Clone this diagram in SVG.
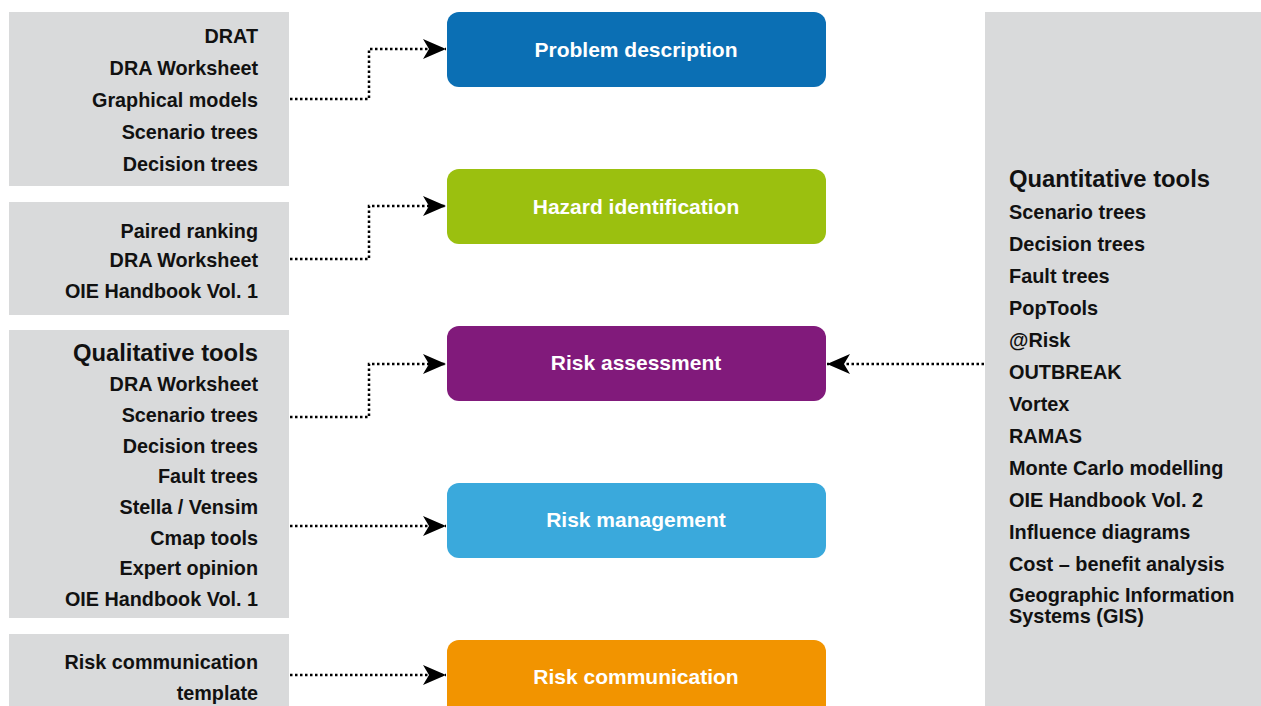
<svg xmlns="http://www.w3.org/2000/svg" width="1261" height="706" viewBox="0 0 1261 706">
<style>
.panel{fill:#d9dadb}
.lt{font-family:"Liberation Sans",Arial,sans-serif;font-weight:bold;font-size:19.8px;fill:#111;text-anchor:end}
.lh{font-family:"Liberation Sans",Arial,sans-serif;font-weight:bold;font-size:23.8px;fill:#111}
.rt{font-family:"Liberation Sans",Arial,sans-serif;font-weight:bold;font-size:19.9px;fill:#111}
.nt{font-family:"Liberation Sans",Arial,sans-serif;font-weight:bold;font-size:21px;fill:#fff;text-anchor:middle}
.conn{fill:none;stroke:#000;stroke-width:2.5;stroke-dasharray:2.5 2.5;marker-end:url(#arr)}
</style>
<defs>
<marker id="arr" markerUnits="userSpaceOnUse" markerWidth="26" markerHeight="22" refX="23" refY="10" orient="auto">
<path d="M0,0 L23,10 L0,20 L6,10 Z" fill="#000"/>
</marker>
</defs>
<rect width="1261" height="706" fill="#fff"/>
<g id="tools-problem">
<rect class="panel" x="9" y="12" width="280" height="174"/>
<text class="lt" x="258" y="43">DRAT</text>
<text class="lt" x="258" y="75">DRA Worksheet</text>
<text class="lt" x="258" y="107">Graphical models</text>
<text class="lt" x="258" y="139">Scenario trees</text>
<text class="lt" x="258" y="171">Decision trees</text>
</g>
<g id="tools-hazard">
<rect class="panel" x="9" y="202" width="280" height="113"/>
<text class="lt" x="258" y="238">Paired ranking</text>
<text class="lt" x="258" y="267">DRA Worksheet</text>
<text class="lt" x="258" y="298">OIE Handbook Vol. 1</text>
</g>
<g id="tools-qualitative">
<rect class="panel" x="9" y="330" width="280" height="288"/>
<text class="lh" x="258" y="361" text-anchor="end">Qualitative tools</text>
<text class="lt" x="258" y="391">DRA Worksheet</text>
<text class="lt" x="258" y="422">Scenario trees</text>
<text class="lt" x="258" y="453">Decision trees</text>
<text class="lt" x="258" y="483">Fault trees</text>
<text class="lt" x="258" y="514">Stella / Vensim</text>
<text class="lt" x="258" y="545">Cmap tools</text>
<text class="lt" x="258" y="575">Expert opinion</text>
<text class="lt" x="258" y="606">OIE Handbook Vol. 1</text>
</g>
<g id="tools-communication">
<rect class="panel" x="9" y="634" width="280" height="72"/>
<text class="lt" x="258" y="669">Risk communication</text>
<text class="lt" x="258" y="700">template</text>
</g>
<g id="tools-quantitative">
<rect class="panel" x="985" y="12" width="276" height="694"/>
<text class="lh" x="1009" y="187">Quantitative tools</text>
<text class="rt" x="1009" y="219">Scenario trees</text>
<text class="rt" x="1009" y="251">Decision trees</text>
<text class="rt" x="1009" y="283">Fault trees</text>
<text class="rt" x="1009" y="315">PopTools</text>
<text class="rt" x="1009" y="347">@Risk</text>
<text class="rt" x="1009" y="379">OUTBREAK</text>
<text class="rt" x="1009" y="411">Vortex</text>
<text class="rt" x="1009" y="443">RAMAS</text>
<text class="rt" x="1009" y="475">Monte Carlo modelling</text>
<text class="rt" x="1009" y="507">OIE Handbook Vol. 2</text>
<text class="rt" x="1009" y="539">Influence diagrams</text>
<text class="rt" x="1009" y="571">Cost – benefit analysis</text>
<text class="rt" x="1009" y="602">Geographic Information</text>
<text class="rt" x="1009" y="623">Systems (GIS)</text>
</g>
<g id="node-problem">
<rect x="447" y="12" width="379" height="75" rx="12" fill="#0b6fb4"/>
<text class="nt" x="636" y="57">Problem description</text>
</g>
<g id="node-hazard">
<rect x="447" y="169" width="379" height="75" rx="12" fill="#9bc00f"/>
<text class="nt" x="636" y="214">Hazard identification</text>
</g>
<g id="node-assessment">
<rect x="447" y="326" width="379" height="75" rx="12" fill="#811a7b"/>
<text class="nt" x="636" y="370">Risk assessment</text>
</g>
<g id="node-management">
<rect x="447" y="483" width="379" height="75" rx="12" fill="#3aa9dc"/>
<text class="nt" x="636" y="527">Risk management</text>
</g>
<g id="node-communication">
<rect x="447" y="640" width="379" height="80" rx="12" fill="#f29400"/>
<text class="nt" x="636" y="684">Risk communication</text>
</g>
<g id="connectors">
<path class="conn" d="M290,99 H369 V49 H446"/>
<path class="conn" d="M290,259 H369 V206 H446"/>
<path class="conn" d="M290,417 H369 V364 H446"/>
<path class="conn" d="M290,526 H446"/>
<path class="conn" d="M290,675 H446"/>
<path class="conn" d="M984,364 H827"/>
</g>
</svg>
